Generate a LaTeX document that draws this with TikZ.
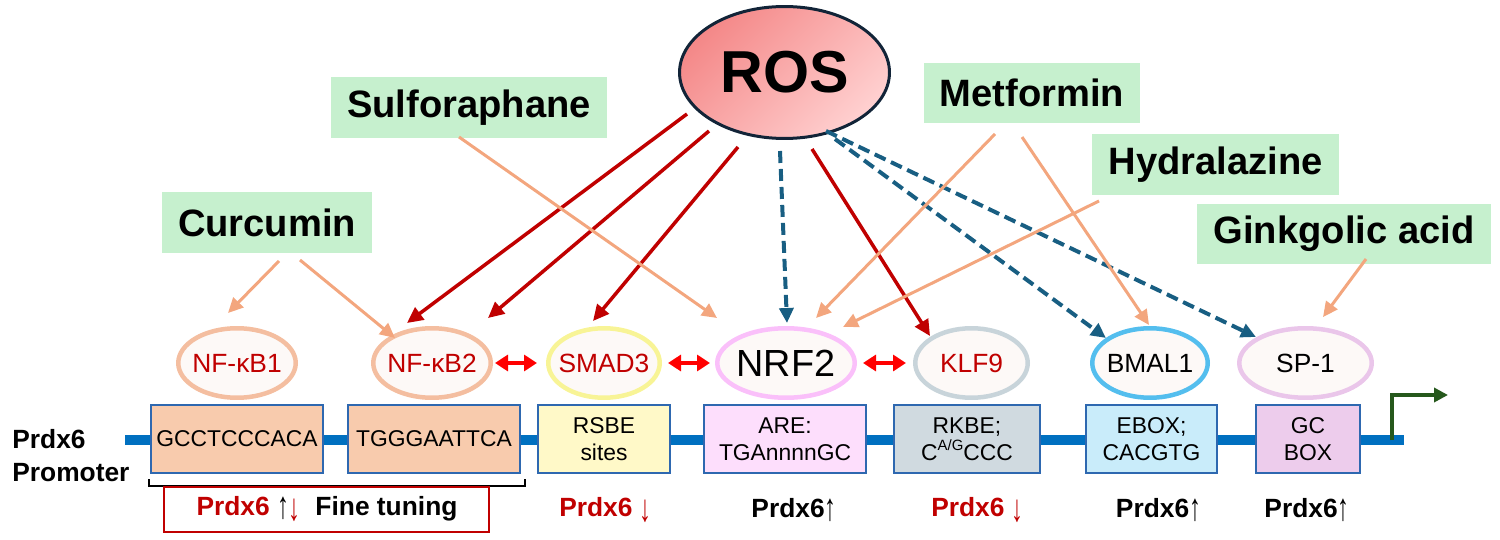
\documentclass[tikz,border=0pt]{standalone}
\usepackage{fontspec}
\setmainfont{Liberation Sans}
\usetikzlibrary{arrows.meta,shapes.geometric}
\definecolor{grnfill}{RGB}{198,240,206}
\definecolor{orng}{RGB}{243,166,126}
\definecolor{dred}{RGB}{192,0,0}
\definecolor{dblue}{RGB}{24,94,130}
\definecolor{bred}{RGB}{255,0,0}
\definecolor{barblue}{RGB}{0,112,192}
\definecolor{boxb}{RGB}{46,104,176}
\definecolor{fA}{RGB}{248,203,173}
\definecolor{fRSBE}{RGB}{255,249,200}
\definecolor{fARE}{RGB}{253,222,252}
\definecolor{fRKBE}{RGB}{208,218,224}
\definecolor{fEBOX}{RGB}{201,236,250}
\definecolor{fGC}{RGB}{237,204,236}
\definecolor{eNF}{RGB}{244,190,160}
\definecolor{eSMAD}{RGB}{248,244,150}
\definecolor{eNRF}{RGB}{250,192,250}
\definecolor{eKLF}{RGB}{200,212,218}
\definecolor{eBMAL}{RGB}{84,190,238}
\definecolor{eSP}{RGB}{234,198,234}
\definecolor{ellfill}{RGB}{253,249,247}
\definecolor{rosA}{RGB}{244,136,136}
\definecolor{rosB}{RGB}{255,208,208}
\definecolor{rosb}{RGB}{18,36,56}
\definecolor{garr}{RGB}{38,88,28}
\definecolor{lbl}{RGB}{192,0,0}
\newcommand{\upar}{\raisebox{-0.12em}{\scalebox{0.9}[1.45]{\mdseries ↑}}}
\newcommand{\dnar}{\raisebox{-0.2em}{\scalebox{0.9}[1.45]{\mdseries ↓}}}
\begin{document}
\begin{tikzpicture}[x=0.02cm,y=-0.02cm,
  grn/.style={rectangle, fill=grnfill, minimum height=1.21cm, inner sep=0pt,
    font=\fontsize{21.7}{26}\selectfont\bfseries},
  tf/.style={ellipse, fill=ellfill, line width=0.09cm, minimum height=1.39cm,
    inner sep=0pt, font=\fontsize{15}{18}\selectfont, text=lbl},
  site/.style={rectangle, draw=boxb, line width=0.04cm, minimum height=1.36cm,
    align=center, inner sep=0pt, font=\fontsize{13}{15.3}\selectfont},
  oarr/.style={draw=orng, line width=0.06cm, -{Triangle[length=0.3cm,width=0.28cm]}},
  rarr/.style={draw=dred, line width=0.07cm, -{Triangle[length=0.32cm,width=0.3cm]}},
  barr/.style={draw=dblue, line width=0.08cm, dash pattern=on 0.24cm off 0.12cm,
    -{Triangle[length=0.3cm,width=0.28cm]}},
  dbl/.style={draw=bred, line width=0.08cm,
    {Triangle[length=0.26cm,width=0.32cm]}-{Triangle[length=0.26cm,width=0.32cm]}},
  lab/.style={font=\fontsize{15}{18.7}\selectfont\bfseries, inner sep=0pt},
  barline/.style={draw=barblue, line width=0.2cm},
  gstart/.style={draw=garr, line width=0.08cm, -{Triangle[length=0.28cm,width=0.28cm]}},
  brk/.style={draw=black, line width=0.04cm},
  redbox/.style={rectangle, draw=dred, line width=0.03cm, minimum width=6.5cm, minimum height=0.9cm, inner sep=0pt}
]
\useasboundingbox (0,0) rectangle (1500,540);

% promoter bar
\coordinate (bar0) at (125,440);
\coordinate (bar1) at (1404,440);
\draw[barline] (bar0) -- (bar1);

% green start arrow
\coordinate (g0) at (1392,440);
\coordinate (g1) at (1392,395);
\coordinate (g2) at (1448,395);
\draw[gstart] (g0) -- (g1) -- (g2);

% binding site boxes
\node[site, fill=fA, minimum width=3.44cm] (s1) at (237,439) {GCCTCCCACA};
\node[site, fill=fA, minimum width=3.44cm] (s2) at (434,439) {TGGGAATTCA};
\node[site, fill=fRSBE, minimum width=2.64cm] (s3) at (604,439) {RSBE\\sites};
\node[site, fill=fARE, minimum width=3.24cm] (s4) at (785,439) {ARE:\\TGAnnnnGC};
\node[site, fill=fRKBE, minimum width=2.92cm] (s5) at (967,439) {RKBE;\\C\raisebox{0.42em}{\fontsize{8.5}{9}\selectfont A/G}CCC};
\node[site, fill=fEBOX, minimum width=2.62cm] (s6) at (1151.5,439) {EBOX;\\CACGTG};
\node[site, fill=fGC, minimum width=2.08cm] (s7) at (1308,439) {GC\\BOX};

% promoter label
\node[lab, anchor=west, align=left] (prom) at (12,456) {Prdx6\\Promoter};

% bracket and fine tuning box
\coordinate (b0) at (149,479);
\coordinate (b1) at (149,486);
\coordinate (b2) at (525,486);
\coordinate (b3) at (525,479);
\draw[brk] (b0) -- (b1) -- (b2) -- (b3);
\node[redbox] (fine) at (326.5,509.5) {};
\node[lab] (finetxt) at (327,509) {\textcolor{lbl}{Prdx6}\ \upar\textcolor{lbl}{\dnar}\ \ Fine tuning};

% effect labels
\node[lab, text=lbl] (e3) at (605.5,510) {Prdx6 \dnar};
\node[lab] (e4) at (794,510) {Prdx6\upar};
\node[lab, text=lbl] (e5) at (977.5,510) {Prdx6 \dnar};
\node[lab] (e6) at (1158.5,510) {Prdx6\upar};
\node[lab] (e7) at (1307,510) {Prdx6\upar};

% transcription factor ellipses
\node[tf, draw=eNF, minimum width=2.35cm] (nfkb1) at (237,363) {\makebox[0pt]{NF-κB1}};
\node[tf, draw=eNF, minimum width=2.35cm] (nfkb2) at (432,363) {\makebox[0pt]{NF-κB2}};
\node[tf, draw=eSMAD, minimum width=2.23cm] (smad3) at (604,363) {\makebox[0pt]{SMAD3}};
\node[tf, draw=eNRF, minimum width=2.75cm, text=black, font=\fontsize{21.5}{24}\selectfont] (nrf2) at (786,363) {\makebox[0pt]{NRF2}};
\node[tf, draw=eKLF, minimum width=2.25cm] (klf9) at (971.5,363) {\makebox[0pt]{KLF9}};
\node[tf, draw=eBMAL, minimum width=2.31cm, text=black] (bmal1) at (1150,363) {\makebox[0pt]{BMAL1}};
\node[tf, draw=eSP, minimum width=2.65cm, text=black] (sp1) at (1305.5,363) {\makebox[0pt]{SP-1}};

% double arrows between factors
\coordinate (d1a) at (495,363); \coordinate (d1b) at (537,363);
\coordinate (d2a) at (668,363); \coordinate (d2b) at (710,363);
\coordinate (d3a) at (863,363); \coordinate (d3b) at (906,363);
\draw[dbl] (d1a) -- (d1b);
\draw[dbl] (d2a) -- (d2b);
\draw[dbl] (d3a) -- (d3b);

% green compound boxes
\node[grn, minimum width=5.54cm] (sulf) at (469,107.5) {Sulforaphane};
\node[grn, minimum width=4.2cm] (curc) at (267,222.5) {Curcumin};
\node[grn, minimum width=4.32cm] (metf) at (1032,93) {Metformin};
\node[grn, minimum width=4.94cm] (hydr) at (1215.5,164.5) {Hydralazine};
\node[grn, minimum width=5.88cm] (gink) at (1344,234) {Ginkgolic acid};

% ROS
\node[ellipse, draw=rosb, line width=0.06cm, top color=rosA, bottom color=rosB, shading angle=45,
  minimum width=4.2cm, minimum height=2.64cm, inner sep=0pt,
  font=\fontsize{33.7}{40}\selectfont\bfseries] (ros) at (784.5,72.5) {ROS};

% ROS arrows (dark red)
\coordinate (r1a) at (687,114); \coordinate (r1b) at (407,323);
\coordinate (r2a) at (709,131); \coordinate (r2b) at (488,318);
\coordinate (r3a) at (738,147); \coordinate (r3b) at (593,321);
\coordinate (r4a) at (812,149); \coordinate (r4b) at (930,336);
\draw[rarr] (r1a) -- (r1b);
\draw[rarr] (r2a) -- (r2b);
\draw[rarr] (r3a) -- (r3b);
\draw[rarr] (r4a) -- (r4b);

% ROS dashed arrows (blue)
\coordinate (q1a) at (780,151); \coordinate (q1b) at (787,323);
\coordinate (q2a) at (835,139); \coordinate (q2b) at (1106,338);
\coordinate (q3a) at (826,131); \coordinate (q3b) at (1256,337);
\draw[barr] (q1a) -- (q1b);
\draw[barr] (q2a) -- (q2b);
\draw[barr] (q3a) -- (q3b);

% compound arrows (orange)
\coordinate (o1a) at (279,261); \coordinate (o1b) at (228,313);
\coordinate (o2a) at (300,260); \coordinate (o2b) at (395,338);
\coordinate (o3a) at (459,137); \coordinate (o3b) at (717,318);
\coordinate (o4a) at (995,134); \coordinate (o4b) at (816,318);
\coordinate (o5a) at (1022,137); \coordinate (o5b) at (1149,325);
\coordinate (o6a) at (1099,201); \coordinate (o6b) at (843,327);
\coordinate (o7a) at (1366,259); \coordinate (o7b) at (1323,317);
\draw[oarr] (o1a) -- (o1b);
\draw[oarr] (o2a) -- (o2b);
\draw[oarr] (o3a) -- (o3b);
\draw[oarr] (o4a) -- (o4b);
\draw[oarr] (o5a) -- (o5b);
\draw[oarr] (o6a) -- (o6b);
\draw[oarr] (o7a) -- (o7b);
\end{tikzpicture}
\end{document}
